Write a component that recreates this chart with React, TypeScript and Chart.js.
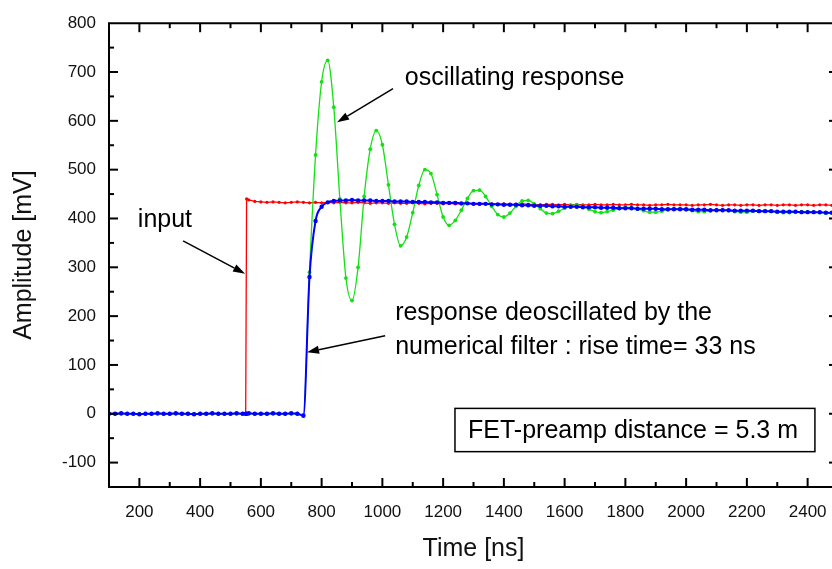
import React, { useEffect, useRef } from 'react';
import { Chart, registerables } from 'chart.js';

Chart.register(...registerables);

// Sampling times (ns)
const timeNs = [
  100, 120, 140, 160, 180, 200, 220, 240, 260, 280,
  300, 320, 340, 360, 380, 400, 420, 440, 460, 480,
  500, 520, 540, 550, 553, 560, 580,
  600, 620, 640, 660, 680, 700, 720, 740, 760, 780,
  800, 820, 840, 860, 880, 900, 920, 940, 960, 980,
  1000, 1020, 1040, 1060, 1080, 1100, 1120, 1140, 1160, 1180,
  1200, 1220, 1240, 1260, 1280, 1300, 1320, 1340, 1360, 1380,
  1400, 1420, 1440, 1460, 1480, 1500, 1520, 1540, 1560, 1580,
  1600, 1620, 1640, 1660, 1680, 1700, 1720, 1740, 1760, 1780,
  1800, 1820, 1840, 1860, 1880, 1900, 1920, 1940, 1960, 1980,
  2000, 2020, 2040, 2060, 2080, 2100, 2120, 2140, 2160, 2180,
  2200, 2220, 2240, 2260, 2280, 2300, 2320, 2340, 2360, 2380,
  2400, 2420, 2440, 2460, 2480, 2500,
];

// Red: input step (mV)
const inputMv = [
  0, 0, 0, 0, 0, 0, 0, 0, 0, 0,
  0, 0, 0, 0, 0, 0, 0, 0, 0, 0,
  0, 0, 0, 0, 440, 438, 435,
  434, 433, 434, 433, 432, 433, 434, 433, 432, 433,
  432, 433, 432, 433, 432, 432, 433, 432, 431, 432,
  432, 431, 432, 431, 431, 432, 431, 430, 431, 431,
  430, 431, 430, 430, 431, 430, 429, 430, 430, 429,
  430, 429, 429, 430, 429, 429, 428, 429, 429, 428,
  429, 428, 429, 428, 428, 429, 428, 428, 429, 428,
  428, 429, 428, 428, 427, 428, 428, 429, 428, 428,
  428, 427, 428, 428, 429, 428, 427, 428, 428, 427,
  428, 428, 427, 428, 428, 427, 428, 428, 427, 428,
  428, 427, 428, 428, 427, 428,
];

// Blue: response deoscillated by the numerical filter (mV)
const filteredMv = [
  0, 0, 1, 0, 0, -1, 0, 0, 1, 0,
  0, 1, 0, 0, -1, 0, 0, 1, 0, 0,
  0, 1, 0, 0, 0, 1, 0,
  0, 0, 1, 0, 0, 1, 0, -4, 280, 395,
  424, 433, 436, 437, 437, 438, 437, 437, 437, 436,
  436, 436, 435, 435, 435, 434, 434, 434, 433, 433,
  432, 432, 432, 431, 431, 430, 430, 430, 429, 429,
  428, 428, 428, 427, 427, 426, 426, 426, 425, 425,
  424, 424, 424, 423, 423, 423, 422, 422, 422, 421,
  421, 421, 420, 420, 420, 420, 419, 419, 419, 419,
  419, 418, 418, 418, 417, 417, 417, 417, 416, 416,
  416, 416, 415, 415, 415, 414, 414, 414, 414, 413,
  413, 413, 413, 412, 412, 412,
];

// Green: oscillating response (mV)
const oscillatingMv = [
  0, 0, 0, 0, 0, 0, 0, 0, 0, 0,
  0, 0, 0, 0, 0, 0, 0, 0, 0, 0,
  0, 0, 0, 0, 0, 0, 0,
  0, 0, 0, 0, 0, 0, 0, -2, 290, 530,
  680, 724, 628, 440, 278, 232, 300, 445, 542, 580,
  551, 469, 388, 344, 362, 412, 468, 500, 492, 449,
  403, 386, 396, 417, 441, 457, 458, 445, 425, 408,
  403, 411, 425, 436, 437, 430, 420, 411, 410, 415,
  421, 427, 428, 425, 419, 414, 412, 414, 417, 421,
  423, 422, 419, 416, 413, 413, 415, 418, 420, 420,
  418, 416, 414, 414, 416, 418, 418, 416, 414, 413,
  413, 415, 416, 416, 415, 413, 412, 412, 413, 414,
  414, 413, 412, 411, 411, 412,
];

const xTickValues = [200, 400, 600, 800, 1000, 1200, 1400, 1600, 1800, 2000, 2200, 2400];
const yTickValues = [-100, 0, 100, 200, 300, 400, 500, 600, 700, 800];

const FONT = '"Liberation Sans", Arial, Helvetica, sans-serif';

// Annotations (in data coordinates)
const notes = [
  { text: 'oscillating response', x: 1074, y: 688 },
  { text: 'input', x: 195, y: 396 },
  { text: 'response deoscillated by the', x: 1042, y: 206 },
  { text: 'numerical filter : rise time= 33 ns', x: 1042, y: 136 },
];
const arrows = [
  { x1: 1035, y1: 666, x2: 851, y2: 597 },
  { x1: 344, y1: 354, x2: 548, y2: 287 },
  { x1: 1009, y1: 160, x2: 752, y2: 126 },
];
const boxNote = { text: 'FET-preamp distance = 5.3 m', x1: 1239, y1: 11, x2: 2424, y2: -77.6, tx: 1282, ty: -35 };

const toPoints = (vals: number[]) => vals.map((v, i) => ({ x: timeNs[i], y: v }));

const framePlugin = {
  id: 'frameAndNotes',
  afterDatasetsDraw(chart: any) {
    const { ctx, chartArea: a, scales } = chart;
    const xs = scales.x;
    const ys = scales.y;
    ctx.save();
    ctx.strokeStyle = '#000';
    ctx.lineWidth = 2;
    ctx.beginPath();
    ctx.rect(a.left, a.top, a.right - a.left, a.bottom - a.top);
    ctx.stroke();

    const seg = (x1: number, y1: number, x2: number, y2: number) => {
      ctx.beginPath();
      ctx.moveTo(x1, y1);
      ctx.lineTo(x2, y2);
      ctx.stroke();
    };
    // inward ticks on all sides
    for (let v = xs.min + 100; v < xs.max; v += 100) {
      const px = xs.getPixelForValue(v);
      const len = v % 200 === 0 ? 9 : 5;
      seg(px, a.bottom, px, a.bottom - len);
      seg(px, a.top, px, a.top + len);
    }
    for (let v = ys.min + 50; v < ys.max; v += 50) {
      const py = ys.getPixelForValue(v);
      const len = v % 100 === 0 ? 9 : 5;
      seg(a.left, py, a.left + len, py);
      seg(a.right, py, a.right - len, py);
    }

    // annotations
    ctx.fillStyle = '#000';
    ctx.font = `25px ${FONT}`;
    ctx.textAlign = 'left';
    ctx.textBaseline = 'middle';
    notes.forEach((n) => {
      ctx.fillText(n.text, xs.getPixelForValue(n.x), ys.getPixelForValue(n.y));
    });

    ctx.lineWidth = 1.5;
    arrows.forEach((r) => {
      const x1 = xs.getPixelForValue(r.x1);
      const y1 = ys.getPixelForValue(r.y1);
      const x2 = xs.getPixelForValue(r.x2);
      const y2 = ys.getPixelForValue(r.y2);
      const ang = Math.atan2(y2 - y1, x2 - x1);
      const hl = 12;
      const hw = 4;
      const bx = x2 - hl * Math.cos(ang);
      const by = y2 - hl * Math.sin(ang);
      seg(x1, y1, bx, by);
      ctx.beginPath();
      ctx.moveTo(x2, y2);
      ctx.lineTo(bx + hw * Math.sin(ang), by - hw * Math.cos(ang));
      ctx.lineTo(bx - hw * Math.sin(ang), by + hw * Math.cos(ang));
      ctx.closePath();
      ctx.fill();
    });

    // boxed note
    const bx1 = xs.getPixelForValue(boxNote.x1);
    const by1 = ys.getPixelForValue(boxNote.y1);
    const bx2 = xs.getPixelForValue(boxNote.x2);
    const by2 = ys.getPixelForValue(boxNote.y2);
    ctx.fillStyle = '#fff';
    ctx.fillRect(bx1, by1, bx2 - bx1, by2 - by1);
    ctx.lineWidth = 1.5;
    ctx.strokeRect(bx1, by1, bx2 - bx1, by2 - by1);
    ctx.fillStyle = '#000';
    ctx.fillText(boxNote.text, xs.getPixelForValue(boxNote.tx), ys.getPixelForValue(boxNote.ty));
    ctx.restore();
  },
};

export default function App() {
  const ref = useRef<HTMLCanvasElement | null>(null);
  useEffect(() => {
    if (!ref.current) return;
    const chart = new Chart(ref.current, {
      type: 'line',
      data: {
        datasets: [
          {
            label: 'response deoscillated by the numerical filter',
            data: toPoints(filteredMv),
            borderColor: '#0000ff',
            backgroundColor: '#0000ff',
            borderWidth: 2,
            pointRadius: 2.2,
            pointBorderWidth: 0,
            cubicInterpolationMode: 'monotone',
          },
          {
            label: 'oscillating response',
            data: toPoints(oscillatingMv),
            borderColor: '#14e014',
            backgroundColor: '#14e014',
            borderWidth: 1.3,
            pointRadius: 1.9,
            pointBorderWidth: 0,
            cubicInterpolationMode: 'monotone',
          },
          {
            label: 'input',
            data: toPoints(inputMv),
            borderColor: '#ff0000',
            backgroundColor: '#ff0000',
            borderWidth: 1.3,
            pointRadius: 1.6,
            pointBorderWidth: 0,
            tension: 0,
          },
        ],
      },
      options: {
        animation: false,
        responsive: false,
        events: [],
        layout: { padding: { left: 0, right: 12, top: 15, bottom: 0 } },
        plugins: { legend: { display: false }, tooltip: { enabled: false } },
        scales: {
          x: {
            type: 'linear',
            min: 100,
            max: 2500,
            grid: { display: false, drawTicks: false },
            border: { display: false },
            afterBuildTicks: (s: any) => {
              s.ticks = xTickValues.map((v) => ({ value: v }));
            },
            afterFit: (s: any) => {
              s.height = 82;
            },
            ticks: {
              autoSkip: false,
              maxRotation: 0,
              padding: 15,
              color: '#111',
              font: { family: FONT, size: 17 },
              callback: (v: any) => String(v),
            },
            title: {
              display: true,
              text: 'Time [ns]',
              color: '#111',
              font: { family: FONT, size: 25 },
              padding: { top: 0, bottom: 5 },
            },
          },
          y: {
            type: 'linear',
            min: -150,
            max: 800,
            grid: { display: false, drawTicks: false },
            border: { display: false },
            afterBuildTicks: (s: any) => {
              s.ticks = yTickValues.map((v) => ({ value: v }));
            },
            afterFit: (s: any) => {
              s.width = 109;
            },
            ticks: {
              autoSkip: false,
              padding: 13,
              color: '#111',
              font: { family: FONT, size: 17 },
              callback: (v: any) => String(v),
            },
            title: {
              display: true,
              text: 'Amplitude [mV]',
              color: '#111',
              font: { family: FONT, size: 25 },
              padding: { top: 9, bottom: 0 },
            },
          },
        },
      },
      plugins: [framePlugin],
    });
    return () => chart.destroy();
  }, []);

  return (
    <div style={{ position: 'fixed', left: 0, top: 0, width: 832, height: 569, overflow: 'hidden', background: '#fff' }}>
      <canvas ref={ref} width={850} height={569} style={{ display: 'block', width: 850, height: 569 }} />
    </div>
  );
}
